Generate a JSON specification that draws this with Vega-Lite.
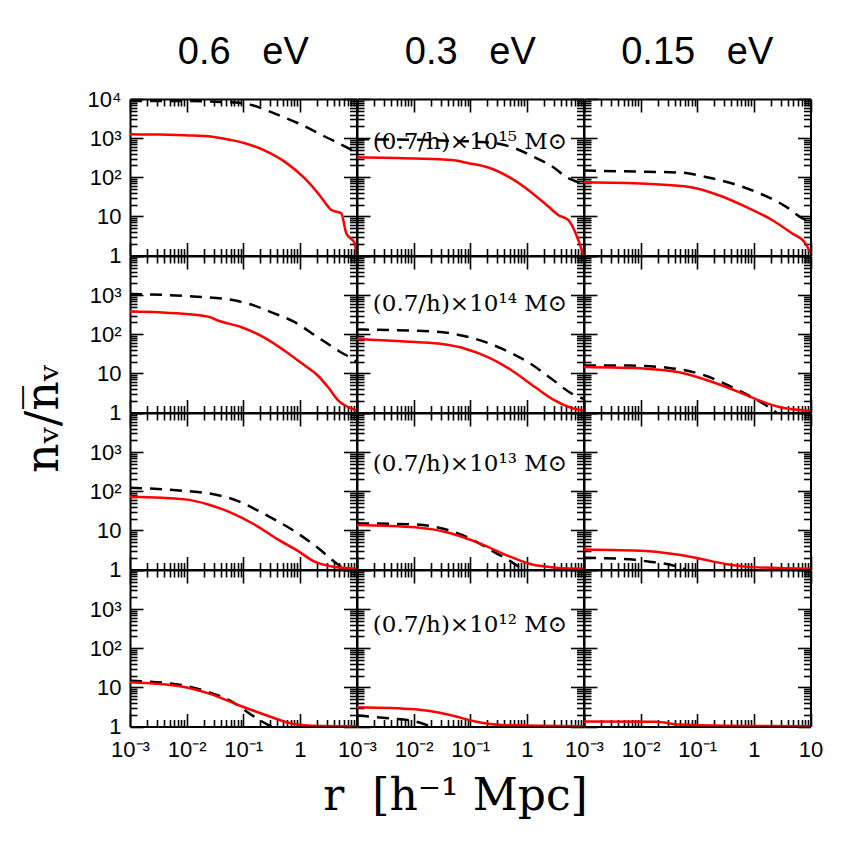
{
"$schema": "https://vega.github.io/schema/vega-lite/v6.json",
"background": "white",
"padding": {"left": 20, "top": 34, "right": 5, "bottom": 5},
"columns": 3,
"spacing": 0,
"bounds": "flush",
"config": {
  "view": {"stroke": null},
  "axis": {"domainColor": "black", "domainWidth": 2, "tickColor": "black", "tickWidth": 1.6, "tickSize": 0, "grid": false, "labelFont": "Liberation Sans", "labelFontSize": 22, "labelColor": "black", "labelPadding": 9, "titleColor": "black", "titleFontWeight": "normal"}
},
"datasets": {
  "labels": [
    {"m": "15", "r": 0.0019, "n": 810, "t": "(0.7/h)×10¹⁵ M⊙"},
    {"m": "14", "r": 0.0019, "n": 600, "t": "(0.7/h)×10¹⁴ M⊙"},
    {"m": "13", "r": 0.0019, "n": 490, "t": "(0.7/h)×10¹³ M⊙"},
    {"m": "12", "r": 0.0019, "n": 400, "t": "(0.7/h)×10¹² M⊙"}
  ],
  "curves": [
    {"m":"15","nu":"0.6","k":"sim","r":0.001,"n":1250},{"m":"15","nu":"0.6","k":"sim","r":0.00316,"n":1230},{"m":"15","nu":"0.6","k":"sim","r":0.01,"n":1175},{"m":"15","nu":"0.6","k":"sim","r":0.024,"n":1120},{"m":"15","nu":"0.6","k":"sim","r":0.0617,"n":890},{"m":"15","nu":"0.6","k":"sim","r":0.107,"n":740},{"m":"15","nu":"0.6","k":"sim","r":0.24,"n":479},{"m":"15","nu":"0.6","k":"sim","r":0.537,"n":251},{"m":"15","nu":"0.6","k":"sim","r":1.22,"n":93},{"m":"15","nu":"0.6","k":"sim","r":2.09,"n":39},{"m":"15","nu":"0.6","k":"sim","r":3.16,"n":17.8},{"m":"15","nu":"0.6","k":"sim","r":3.6,"n":14.5},{"m":"15","nu":"0.6","k":"sim","r":5.37,"n":12},{"m":"15","nu":"0.6","k":"sim","r":6.6,"n":3.7},{"m":"15","nu":"0.6","k":"sim","r":9.3,"n":2.04},{"m":"15","nu":"0.6","k":"sim","r":10,"n":1},
    {"m":"15","nu":"0.6","k":"lin","r":0.001,"n":8900},{"m":"15","nu":"0.6","k":"lin","r":0.01,"n":8900},{"m":"15","nu":"0.6","k":"lin","r":0.0316,"n":8500},{"m":"15","nu":"0.6","k":"lin","r":0.1,"n":7760},{"m":"15","nu":"0.6","k":"lin","r":0.138,"n":7080},{"m":"15","nu":"0.6","k":"lin","r":0.355,"n":4270},{"m":"15","nu":"0.6","k":"lin","r":0.933,"n":2400},{"m":"15","nu":"0.6","k":"lin","r":2.75,"n":1100},{"m":"15","nu":"0.6","k":"lin","r":8.13,"n":500},{"m":"15","nu":"0.6","k":"lin","r":10,"n":420},
    {"m":"15","nu":"0.3","k":"sim","r":0.001,"n":324},{"m":"15","nu":"0.3","k":"sim","r":0.01,"n":302},{"m":"15","nu":"0.3","k":"sim","r":0.0473,"n":275},{"m":"15","nu":"0.3","k":"sim","r":0.0933,"n":229},{"m":"15","nu":"0.3","k":"sim","r":0.209,"n":178},{"m":"15","nu":"0.3","k":"sim","r":0.479,"n":102},{"m":"15","nu":"0.3","k":"sim","r":1.07,"n":46.8},{"m":"15","nu":"0.3","k":"sim","r":2.4,"n":17.8},{"m":"15","nu":"0.3","k":"sim","r":3.63,"n":10.7},{"m":"15","nu":"0.3","k":"sim","r":5.37,"n":8.1},{"m":"15","nu":"0.3","k":"sim","r":8.13,"n":2.45},{"m":"15","nu":"0.3","k":"sim","r":10,"n":1},
    {"m":"15","nu":"0.3","k":"lin","r":0.001,"n":933},{"m":"15","nu":"0.3","k":"lin","r":0.01,"n":912},{"m":"15","nu":"0.3","k":"lin","r":0.0501,"n":851},{"m":"15","nu":"0.3","k":"lin","r":0.158,"n":794},{"m":"15","nu":"0.3","k":"lin","r":0.339,"n":708},{"m":"15","nu":"0.3","k":"lin","r":0.617,"n":550},{"m":"15","nu":"0.3","k":"lin","r":1.32,"n":331},{"m":"15","nu":"0.3","k":"lin","r":2.57,"n":204},{"m":"15","nu":"0.3","k":"lin","r":5.5,"n":93},{"m":"15","nu":"0.3","k":"lin","r":10,"n":68},
    {"m":"15","nu":"0.15","k":"sim","r":0.001,"n":74},{"m":"15","nu":"0.15","k":"sim","r":0.0123,"n":68},{"m":"15","nu":"0.15","k":"sim","r":0.0813,"n":55},{"m":"15","nu":"0.15","k":"sim","r":0.24,"n":34.7},{"m":"15","nu":"0.15","k":"sim","r":0.708,"n":17.8},{"m":"15","nu":"0.15","k":"sim","r":2.09,"n":8.1},{"m":"15","nu":"0.15","k":"sim","r":4.68,"n":3.7},{"m":"15","nu":"0.15","k":"sim","r":8.13,"n":2.04},{"m":"15","nu":"0.15","k":"sim","r":10,"n":1.15},
    {"m":"15","nu":"0.15","k":"lin","r":0.001,"n":148},{"m":"15","nu":"0.15","k":"lin","r":0.0123,"n":138},{"m":"15","nu":"0.15","k":"lin","r":0.049,"n":132},{"m":"15","nu":"0.15","k":"lin","r":0.141,"n":102},{"m":"15","nu":"0.15","k":"lin","r":0.417,"n":69},{"m":"15","nu":"0.15","k":"lin","r":1.24,"n":39},{"m":"15","nu":"0.15","k":"lin","r":3.67,"n":17.8},{"m":"15","nu":"0.15","k":"lin","r":7.24,"n":8.9},{"m":"15","nu":"0.15","k":"lin","r":10,"n":7.6},
    {"m":"14","nu":"0.6","k":"sim","r":0.001,"n":380},{"m":"14","nu":"0.6","k":"sim","r":0.00316,"n":363},{"m":"14","nu":"0.6","k":"sim","r":0.024,"n":282},{"m":"14","nu":"0.6","k":"sim","r":0.0355,"n":224},{"m":"14","nu":"0.6","k":"sim","r":0.0933,"n":151},{"m":"14","nu":"0.6","k":"sim","r":0.24,"n":81},{"m":"14","nu":"0.6","k":"sim","r":0.537,"n":38},{"m":"14","nu":"0.6","k":"sim","r":1.22,"n":15.8},{"m":"14","nu":"0.6","k":"sim","r":2.09,"n":8.7},{"m":"14","nu":"0.6","k":"sim","r":3.16,"n":4.4},{"m":"14","nu":"0.6","k":"sim","r":4.79,"n":2},{"m":"14","nu":"0.6","k":"sim","r":9.33,"n":1.17},{"m":"14","nu":"0.6","k":"sim","r":10,"n":1.12},
    {"m":"14","nu":"0.6","k":"lin","r":0.001,"n":1070},{"m":"14","nu":"0.6","k":"lin","r":0.0155,"n":912},{"m":"14","nu":"0.6","k":"lin","r":0.0617,"n":759},{"m":"14","nu":"0.6","k":"lin","r":0.138,"n":575},{"m":"14","nu":"0.6","k":"lin","r":0.316,"n":363},{"m":"14","nu":"0.6","k":"lin","r":0.813,"n":204},{"m":"14","nu":"0.6","k":"lin","r":2.09,"n":83},{"m":"14","nu":"0.6","k":"lin","r":4.79,"n":38},{"m":"14","nu":"0.6","k":"lin","r":9.33,"n":21.4},{"m":"14","nu":"0.6","k":"lin","r":10,"n":20},
    {"m":"14","nu":"0.3","k":"sim","r":0.001,"n":76},{"m":"14","nu":"0.3","k":"sim","r":0.0107,"n":63},{"m":"14","nu":"0.3","k":"sim","r":0.0316,"n":56},{"m":"14","nu":"0.3","k":"sim","r":0.0813,"n":42.7},{"m":"14","nu":"0.3","k":"sim","r":0.209,"n":25.7},{"m":"14","nu":"0.3","k":"sim","r":0.55,"n":11.7},{"m":"14","nu":"0.3","k":"sim","r":1.41,"n":4.4},{"m":"14","nu":"0.3","k":"sim","r":3.16,"n":2},{"m":"14","nu":"0.3","k":"sim","r":8.13,"n":1.17},{"m":"14","nu":"0.3","k":"sim","r":10,"n":1.12},
    {"m":"14","nu":"0.3","k":"lin","r":0.001,"n":132},{"m":"14","nu":"0.3","k":"lin","r":0.0107,"n":123},{"m":"14","nu":"0.3","k":"lin","r":0.0417,"n":107},{"m":"14","nu":"0.3","k":"lin","r":0.123,"n":76},{"m":"14","nu":"0.3","k":"lin","r":0.363,"n":42.7},{"m":"14","nu":"0.3","k":"lin","r":1.07,"n":19},{"m":"14","nu":"0.3","k":"lin","r":2.75,"n":7.2},{"m":"14","nu":"0.3","k":"lin","r":6.3,"n":3},{"m":"14","nu":"0.3","k":"lin","r":10,"n":2.24},
    {"m":"14","nu":"0.15","k":"sim","r":0.001,"n":14.5},{"m":"14","nu":"0.15","k":"sim","r":0.0123,"n":13.2},{"m":"14","nu":"0.15","k":"sim","r":0.0479,"n":10.7},{"m":"14","nu":"0.15","k":"sim","r":0.186,"n":6},{"m":"14","nu":"0.15","k":"sim","r":0.55,"n":3.3},{"m":"14","nu":"0.15","k":"sim","r":1.23,"n":2.04},{"m":"14","nu":"0.15","k":"sim","r":2.82,"n":1.38},{"m":"14","nu":"0.15","k":"sim","r":10,"n":1.1},
    {"m":"14","nu":"0.15","k":"lin","r":0.001,"n":15.8},{"m":"14","nu":"0.15","k":"lin","r":0.0063,"n":15.8},{"m":"14","nu":"0.15","k":"lin","r":0.0316,"n":13.8},{"m":"14","nu":"0.15","k":"lin","r":0.141,"n":8.7},{"m":"14","nu":"0.15","k":"lin","r":0.417,"n":4.4},{"m":"14","nu":"0.15","k":"lin","r":0.933,"n":2.45},{"m":"14","nu":"0.15","k":"lin","r":1.86,"n":1.35},{"m":"14","nu":"0.15","k":"lin","r":2.5,"n":1},
    {"m":"13","nu":"0.6","k":"sim","r":0.001,"n":72},{"m":"13","nu":"0.6","k":"sim","r":0.0093,"n":62},{"m":"13","nu":"0.6","k":"sim","r":0.024,"n":46},{"m":"13","nu":"0.6","k":"sim","r":0.0617,"n":28},{"m":"13","nu":"0.6","k":"sim","r":0.158,"n":14.1},{"m":"13","nu":"0.6","k":"sim","r":0.407,"n":5.9},{"m":"13","nu":"0.6","k":"sim","r":0.933,"n":2.95},{"m":"13","nu":"0.6","k":"sim","r":1.82,"n":1.58},{"m":"13","nu":"0.6","k":"sim","r":3.63,"n":1.2},{"m":"13","nu":"0.6","k":"sim","r":10,"n":1.05},
    {"m":"13","nu":"0.6","k":"lin","r":0.001,"n":123},{"m":"13","nu":"0.6","k":"lin","r":0.0093,"n":102},{"m":"13","nu":"0.6","k":"lin","r":0.0316,"n":83},{"m":"13","nu":"0.6","k":"lin","r":0.0813,"n":56},{"m":"13","nu":"0.6","k":"lin","r":0.24,"n":25.7},{"m":"13","nu":"0.6","k":"lin","r":0.708,"n":10.7},{"m":"13","nu":"0.6","k":"lin","r":2.09,"n":3.55},{"m":"13","nu":"0.6","k":"lin","r":4.68,"n":1.35},{"m":"13","nu":"0.6","k":"lin","r":6.3,"n":1},
    {"m":"13","nu":"0.3","k":"sim","r":0.001,"n":13.8},{"m":"13","nu":"0.3","k":"sim","r":0.0107,"n":12},{"m":"13","nu":"0.3","k":"sim","r":0.0417,"n":8.7},{"m":"13","nu":"0.3","k":"sim","r":0.162,"n":4.4},{"m":"13","nu":"0.3","k":"sim","r":0.479,"n":2.19},{"m":"13","nu":"0.3","k":"sim","r":1.41,"n":1.29},{"m":"13","nu":"0.3","k":"sim","r":8.13,"n":1.05},{"m":"13","nu":"0.3","k":"sim","r":10,"n":1.05},
    {"m":"13","nu":"0.3","k":"lin","r":0.001,"n":15.1},{"m":"13","nu":"0.3","k":"lin","r":0.0107,"n":14.1},{"m":"13","nu":"0.3","k":"lin","r":0.0363,"n":10.7},{"m":"13","nu":"0.3","k":"lin","r":0.107,"n":5.9},{"m":"13","nu":"0.3","k":"lin","r":0.275,"n":2.7},{"m":"13","nu":"0.3","k":"lin","r":0.479,"n":1.74},{"m":"13","nu":"0.3","k":"lin","r":0.76,"n":1.1},{"m":"13","nu":"0.3","k":"lin","r":0.83,"n":1},
    {"m":"13","nu":"0.15","k":"sim","r":0.001,"n":3.24},{"m":"13","nu":"0.15","k":"sim","r":0.0123,"n":2.95},{"m":"13","nu":"0.15","k":"sim","r":0.0933,"n":2},{"m":"13","nu":"0.15","k":"sim","r":0.316,"n":1.38},{"m":"13","nu":"0.15","k":"sim","r":0.933,"n":1.15},{"m":"13","nu":"0.15","k":"sim","r":10,"n":1.05},
    {"m":"13","nu":"0.15","k":"lin","r":0.001,"n":2},{"m":"13","nu":"0.15","k":"lin","r":0.0063,"n":1.82},{"m":"13","nu":"0.15","k":"lin","r":0.0162,"n":1.55},{"m":"13","nu":"0.15","k":"lin","r":0.0363,"n":1.29},{"m":"13","nu":"0.15","k":"lin","r":0.063,"n":1},
    {"m":"12","nu":"0.6","k":"sim","r":0.001,"n":13.5},{"m":"12","nu":"0.6","k":"sim","r":0.0081,"n":10.5},{"m":"12","nu":"0.6","k":"sim","r":0.0275,"n":6.6},{"m":"12","nu":"0.6","k":"sim","r":0.0813,"n":3.55},{"m":"12","nu":"0.6","k":"sim","r":0.24,"n":2},{"m":"12","nu":"0.6","k":"sim","r":0.708,"n":1.2},{"m":"12","nu":"0.6","k":"sim","r":1.58,"n":1.05},{"m":"12","nu":"0.6","k":"sim","r":10,"n":1.02},
    {"m":"12","nu":"0.6","k":"lin","r":0.001,"n":14.8},{"m":"12","nu":"0.6","k":"lin","r":0.0081,"n":11.5},{"m":"12","nu":"0.6","k":"lin","r":0.0275,"n":7.1},{"m":"12","nu":"0.6","k":"lin","r":0.0617,"n":4.4},{"m":"12","nu":"0.6","k":"lin","r":0.138,"n":2},{"m":"12","nu":"0.6","k":"lin","r":0.275,"n":1.1},{"m":"12","nu":"0.6","k":"lin","r":0.316,"n":1},
    {"m":"12","nu":"0.3","k":"sim","r":0.001,"n":3.1},{"m":"12","nu":"0.3","k":"sim","r":0.0107,"n":2.75},{"m":"12","nu":"0.3","k":"sim","r":0.0417,"n":2},{"m":"12","nu":"0.3","k":"sim","r":0.123,"n":1.35},{"m":"12","nu":"0.3","k":"sim","r":0.363,"n":1.1},{"m":"12","nu":"0.3","k":"sim","r":10,"n":1.01},
    {"m":"12","nu":"0.3","k":"lin","r":0.001,"n":1.9},{"m":"12","nu":"0.3","k":"lin","r":0.0036,"n":1.62},{"m":"12","nu":"0.3","k":"lin","r":0.0107,"n":1.35},{"m":"12","nu":"0.3","k":"lin","r":0.02,"n":1},
    {"m":"12","nu":"0.15","k":"sim","r":0.001,"n":1.35},{"m":"12","nu":"0.15","k":"sim","r":0.0186,"n":1.32},{"m":"12","nu":"0.15","k":"sim","r":0.0479,"n":1.12},{"m":"12","nu":"0.15","k":"sim","r":0.316,"n":1.05},{"m":"12","nu":"0.15","k":"sim","r":10,"n":1.02}
  ]
},
"concat": [
  {"width": 226.5, "height": 156.5,
   "title": {"text": "0.6\u00a0\u00a0\u00a0eV", "font": "Liberation Sans", "fontSize": 38, "fontWeight": "normal", "color": "black", "offset": -14, "baseline": "alphabetic"},
   "layer": [
    {"data": {"name": "curves"}, "transform": [{"filter": "datum.m=='15' && datum.nu=='0.6' && datum.k=='lin'"}],
     "mark": {"type": "line", "color": "black", "strokeWidth": 2.5, "strokeDash": [12, 8], "clip": true, "interpolate": "monotone"},
     "encoding": {"x": {"field": "r", "type": "quantitative", "scale": {"type": "log", "domain": [0.001, 10], "nice": false}, "axis": {"orient": "top", "values": [0.001,0.002,0.003,0.004,0.005,0.006,0.007,0.008,0.009,0.01,0.02,0.03,0.04,0.05,0.06,0.07,0.08,0.09,0.1,0.2,0.3,0.4,0.5,0.6,0.7,0.8,0.9,1,2,3,4,5,6,7,8,9,10], "labels": false, "title": null, "encoding": {"ticks": {"y2": {"condition": {"test": "abs(log(datum.value)/LN10-round(log(datum.value)/LN10))<0.001", "value": 13}, "value": 7}}}}},
                  "y": {"field": "n", "type": "quantitative", "scale": {"type": "log", "domain": [1, 10000], "nice": false}, "axis": {"orient": "right", "values": [1,2,3,4,5,6,7,8,9,10,20,30,40,50,60,70,80,90,100,200,300,400,500,600,700,800,900,1000,2000,3000,4000,5000,6000,7000,8000,9000,10000], "labels": false, "title": null, "encoding": {"ticks": {"x2": {"condition": {"test": "abs(log(datum.value)/LN10-round(log(datum.value)/LN10))<0.001", "value": -13}, "value": -7}}}}}}},
    {"data": {"name": "curves"}, "transform": [{"filter": "datum.m=='15' && datum.nu=='0.6' && datum.k=='sim'"}],
     "mark": {"type": "line", "color": "#ff0000", "strokeWidth": 2.5, "clip": true, "interpolate": "monotone"},
     "encoding": {"x": {"field": "r", "type": "quantitative", "scale": {"type": "log", "domain": [0.001, 10], "nice": false}, "axis": {"orient": "bottom", "values": [0.001,0.002,0.003,0.004,0.005,0.006,0.007,0.008,0.009,0.01,0.02,0.03,0.04,0.05,0.06,0.07,0.08,0.09,0.1,0.2,0.3,0.4,0.5,0.6,0.7,0.8,0.9,1,2,3,4,5,6,7,8,9,10], "labels": false, "title": null, "encoding": {"ticks": {"y2": {"condition": {"test": "abs(log(datum.value)/LN10-round(log(datum.value)/LN10))<0.001", "value": -13}, "value": -7}}}}},
                  "y": {"field": "n", "type": "quantitative", "scale": {"type": "log", "domain": [1, 10000], "nice": false}, "axis": {"orient": "left", "values": [1,2,3,4,5,6,7,8,9,10,20,30,40,50,60,70,80,90,100,200,300,400,500,600,700,800,900,1000,2000,3000,4000,5000,6000,7000,8000,9000,10000], "labels": true, "labelOverlap": false, "labelFlush": false, "labelExpr": "datum.value==1?'1':datum.value==10?'10':datum.value==100?'10²':datum.value==1000?'10³':datum.value==10000?'10⁴':''", "title": null, "encoding": {"ticks": {"x2": {"condition": {"test": "abs(log(datum.value)/LN10-round(log(datum.value)/LN10))<0.001", "value": 13}, "value": 7}}}}}}}
   ]},
  {"width": 226.5, "height": 156.5,
   "title": {"text": "0.3\u00a0\u00a0\u00a0eV", "font": "Liberation Sans", "fontSize": 38, "fontWeight": "normal", "color": "black", "offset": -4, "baseline": "alphabetic"},
   "layer": [
    {"data": {"name": "curves"}, "transform": [{"filter": "datum.m=='15' && datum.nu=='0.3' && datum.k=='lin'"}],
     "mark": {"type": "line", "color": "black", "strokeWidth": 2.5, "strokeDash": [12, 8], "clip": true, "interpolate": "monotone"},
     "encoding": {"x": {"field": "r", "type": "quantitative", "scale": {"type": "log", "domain": [0.001, 10], "nice": false}, "axis": {"orient": "top", "values": [0.001,0.002,0.003,0.004,0.005,0.006,0.007,0.008,0.009,0.01,0.02,0.03,0.04,0.05,0.06,0.07,0.08,0.09,0.1,0.2,0.3,0.4,0.5,0.6,0.7,0.8,0.9,1,2,3,4,5,6,7,8,9,10], "labels": false, "title": null, "encoding": {"ticks": {"y2": {"condition": {"test": "abs(log(datum.value)/LN10-round(log(datum.value)/LN10))<0.001", "value": 13}, "value": 7}}}}},
                  "y": {"field": "n", "type": "quantitative", "scale": {"type": "log", "domain": [1, 10000], "nice": false}, "axis": {"orient": "right", "values": [1,2,3,4,5,6,7,8,9,10,20,30,40,50,60,70,80,90,100,200,300,400,500,600,700,800,900,1000,2000,3000,4000,5000,6000,7000,8000,9000,10000], "labels": false, "title": null, "encoding": {"ticks": {"x2": {"condition": {"test": "abs(log(datum.value)/LN10-round(log(datum.value)/LN10))<0.001", "value": -13}, "value": -7}}}}}}},
    {"data": {"name": "curves"}, "transform": [{"filter": "datum.m=='15' && datum.nu=='0.3' && datum.k=='sim'"}],
     "mark": {"type": "line", "color": "#ff0000", "strokeWidth": 2.5, "clip": true, "interpolate": "monotone"},
     "encoding": {"x": {"field": "r", "type": "quantitative", "scale": {"type": "log", "domain": [0.001, 10], "nice": false}, "axis": {"orient": "bottom", "values": [0.001,0.002,0.003,0.004,0.005,0.006,0.007,0.008,0.009,0.01,0.02,0.03,0.04,0.05,0.06,0.07,0.08,0.09,0.1,0.2,0.3,0.4,0.5,0.6,0.7,0.8,0.9,1,2,3,4,5,6,7,8,9,10], "labels": false, "title": null, "encoding": {"ticks": {"y2": {"condition": {"test": "abs(log(datum.value)/LN10-round(log(datum.value)/LN10))<0.001", "value": -13}, "value": -7}}}}},
                  "y": {"field": "n", "type": "quantitative", "scale": {"type": "log", "domain": [1, 10000], "nice": false}, "axis": {"orient": "left", "values": [1,2,3,4,5,6,7,8,9,10,20,30,40,50,60,70,80,90,100,200,300,400,500,600,700,800,900,1000,2000,3000,4000,5000,6000,7000,8000,9000,10000], "labels": false, "title": null, "encoding": {"ticks": {"x2": {"condition": {"test": "abs(log(datum.value)/LN10-round(log(datum.value)/LN10))<0.001", "value": 13}, "value": 7}}}}}}},
    {"data": {"name": "labels"}, "transform": [{"filter": "datum.m=='15'"}],
     "mark": {"type": "text", "align": "left", "baseline": "middle", "font": "DejaVu Serif", "fontSize": 23, "color": "black"},
     "encoding": {"x": {"field": "r", "type": "quantitative", "scale": {"type": "log", "domain": [0.001, 10], "nice": false}, "axis": null},
                  "y": {"field": "n", "type": "quantitative", "scale": {"type": "log", "domain": [1, 10000], "nice": false}, "axis": null},
                  "text": {"field": "t"}}}
   ]},
  {"width": 226.5, "height": 156.5,
   "title": {"text": "0.15\u00a0\u00a0\u00a0eV", "font": "Liberation Sans", "fontSize": 38, "fontWeight": "normal", "color": "black", "offset": -4, "baseline": "alphabetic"},
   "layer": [
    {"data": {"name": "curves"}, "transform": [{"filter": "datum.m=='15' && datum.nu=='0.15' && datum.k=='lin'"}],
     "mark": {"type": "line", "color": "black", "strokeWidth": 2.5, "strokeDash": [12, 8], "clip": true, "interpolate": "monotone"},
     "encoding": {"x": {"field": "r", "type": "quantitative", "scale": {"type": "log", "domain": [0.001, 10], "nice": false}, "axis": {"orient": "top", "values": [0.001,0.002,0.003,0.004,0.005,0.006,0.007,0.008,0.009,0.01,0.02,0.03,0.04,0.05,0.06,0.07,0.08,0.09,0.1,0.2,0.3,0.4,0.5,0.6,0.7,0.8,0.9,1,2,3,4,5,6,7,8,9,10], "labels": false, "title": null, "encoding": {"ticks": {"y2": {"condition": {"test": "abs(log(datum.value)/LN10-round(log(datum.value)/LN10))<0.001", "value": 13}, "value": 7}}}}},
                  "y": {"field": "n", "type": "quantitative", "scale": {"type": "log", "domain": [1, 10000], "nice": false}, "axis": {"orient": "right", "values": [1,2,3,4,5,6,7,8,9,10,20,30,40,50,60,70,80,90,100,200,300,400,500,600,700,800,900,1000,2000,3000,4000,5000,6000,7000,8000,9000,10000], "labels": false, "title": null, "encoding": {"ticks": {"x2": {"condition": {"test": "abs(log(datum.value)/LN10-round(log(datum.value)/LN10))<0.001", "value": -13}, "value": -7}}}}}}},
    {"data": {"name": "curves"}, "transform": [{"filter": "datum.m=='15' && datum.nu=='0.15' && datum.k=='sim'"}],
     "mark": {"type": "line", "color": "#ff0000", "strokeWidth": 2.5, "clip": true, "interpolate": "monotone"},
     "encoding": {"x": {"field": "r", "type": "quantitative", "scale": {"type": "log", "domain": [0.001, 10], "nice": false}, "axis": {"orient": "bottom", "values": [0.001,0.002,0.003,0.004,0.005,0.006,0.007,0.008,0.009,0.01,0.02,0.03,0.04,0.05,0.06,0.07,0.08,0.09,0.1,0.2,0.3,0.4,0.5,0.6,0.7,0.8,0.9,1,2,3,4,5,6,7,8,9,10], "labels": false, "title": null, "encoding": {"ticks": {"y2": {"condition": {"test": "abs(log(datum.value)/LN10-round(log(datum.value)/LN10))<0.001", "value": -13}, "value": -7}}}}},
                  "y": {"field": "n", "type": "quantitative", "scale": {"type": "log", "domain": [1, 10000], "nice": false}, "axis": {"orient": "left", "values": [1,2,3,4,5,6,7,8,9,10,20,30,40,50,60,70,80,90,100,200,300,400,500,600,700,800,900,1000,2000,3000,4000,5000,6000,7000,8000,9000,10000], "labels": false, "title": null, "encoding": {"ticks": {"x2": {"condition": {"test": "abs(log(datum.value)/LN10-round(log(datum.value)/LN10))<0.001", "value": 13}, "value": 7}}}}}}}
   ]},
  {"width": 226.5, "height": 156.5,
   "layer": [
    {"data": {"name": "curves"}, "transform": [{"filter": "datum.m=='14' && datum.nu=='0.6' && datum.k=='lin'"}],
     "mark": {"type": "line", "color": "black", "strokeWidth": 2.5, "strokeDash": [12, 8], "clip": true, "interpolate": "monotone"},
     "encoding": {"x": {"field": "r", "type": "quantitative", "scale": {"type": "log", "domain": [0.001, 10], "nice": false}, "axis": {"orient": "top", "values": [0.001,0.002,0.003,0.004,0.005,0.006,0.007,0.008,0.009,0.01,0.02,0.03,0.04,0.05,0.06,0.07,0.08,0.09,0.1,0.2,0.3,0.4,0.5,0.6,0.7,0.8,0.9,1,2,3,4,5,6,7,8,9,10], "labels": false, "title": null, "encoding": {"ticks": {"y2": {"condition": {"test": "abs(log(datum.value)/LN10-round(log(datum.value)/LN10))<0.001", "value": 13}, "value": 7}}}}},
                  "y": {"field": "n", "type": "quantitative", "scale": {"type": "log", "domain": [1, 10000], "nice": false}, "axis": {"orient": "right", "values": [1,2,3,4,5,6,7,8,9,10,20,30,40,50,60,70,80,90,100,200,300,400,500,600,700,800,900,1000,2000,3000,4000,5000,6000,7000,8000,9000,10000], "labels": false, "title": null, "encoding": {"ticks": {"x2": {"condition": {"test": "abs(log(datum.value)/LN10-round(log(datum.value)/LN10))<0.001", "value": -13}, "value": -7}}}}}}},
    {"data": {"name": "curves"}, "transform": [{"filter": "datum.m=='14' && datum.nu=='0.6' && datum.k=='sim'"}],
     "mark": {"type": "line", "color": "#ff0000", "strokeWidth": 2.5, "clip": true, "interpolate": "monotone"},
     "encoding": {"x": {"field": "r", "type": "quantitative", "scale": {"type": "log", "domain": [0.001, 10], "nice": false}, "axis": {"orient": "bottom", "values": [0.001,0.002,0.003,0.004,0.005,0.006,0.007,0.008,0.009,0.01,0.02,0.03,0.04,0.05,0.06,0.07,0.08,0.09,0.1,0.2,0.3,0.4,0.5,0.6,0.7,0.8,0.9,1,2,3,4,5,6,7,8,9,10], "labels": false, "title": null, "encoding": {"ticks": {"y2": {"condition": {"test": "abs(log(datum.value)/LN10-round(log(datum.value)/LN10))<0.001", "value": -13}, "value": -7}}}}},
                  "y": {"field": "n", "type": "quantitative", "scale": {"type": "log", "domain": [1, 10000], "nice": false}, "axis": {"orient": "left", "values": [1,2,3,4,5,6,7,8,9,10,20,30,40,50,60,70,80,90,100,200,300,400,500,600,700,800,900,1000,2000,3000,4000,5000,6000,7000,8000,9000,10000], "labels": true, "labelOverlap": false, "labelFlush": false, "labelExpr": "datum.value==1?'1':datum.value==10?'10':datum.value==100?'10²':datum.value==1000?'10³':''", "title": "n\u1d65/n\u0305\u1d65", "titleFont": "DejaVu Serif", "titleFontSize": 46, "titleAngle": -90, "titleX": -87, "titleY": 162, "titleAlign": "center", "titleBaseline": "middle", "encoding": {"ticks": {"x2": {"condition": {"test": "abs(log(datum.value)/LN10-round(log(datum.value)/LN10))<0.001", "value": 13}, "value": 7}}}}}}}
   ]},
  {"width": 226.5, "height": 156.5,
   "layer": [
    {"data": {"name": "curves"}, "transform": [{"filter": "datum.m=='14' && datum.nu=='0.3' && datum.k=='lin'"}],
     "mark": {"type": "line", "color": "black", "strokeWidth": 2.5, "strokeDash": [12, 8], "clip": true, "interpolate": "monotone"},
     "encoding": {"x": {"field": "r", "type": "quantitative", "scale": {"type": "log", "domain": [0.001, 10], "nice": false}, "axis": {"orient": "top", "values": [0.001,0.002,0.003,0.004,0.005,0.006,0.007,0.008,0.009,0.01,0.02,0.03,0.04,0.05,0.06,0.07,0.08,0.09,0.1,0.2,0.3,0.4,0.5,0.6,0.7,0.8,0.9,1,2,3,4,5,6,7,8,9,10], "labels": false, "title": null, "encoding": {"ticks": {"y2": {"condition": {"test": "abs(log(datum.value)/LN10-round(log(datum.value)/LN10))<0.001", "value": 13}, "value": 7}}}}},
                  "y": {"field": "n", "type": "quantitative", "scale": {"type": "log", "domain": [1, 10000], "nice": false}, "axis": {"orient": "right", "values": [1,2,3,4,5,6,7,8,9,10,20,30,40,50,60,70,80,90,100,200,300,400,500,600,700,800,900,1000,2000,3000,4000,5000,6000,7000,8000,9000,10000], "labels": false, "title": null, "encoding": {"ticks": {"x2": {"condition": {"test": "abs(log(datum.value)/LN10-round(log(datum.value)/LN10))<0.001", "value": -13}, "value": -7}}}}}}},
    {"data": {"name": "curves"}, "transform": [{"filter": "datum.m=='14' && datum.nu=='0.3' && datum.k=='sim'"}],
     "mark": {"type": "line", "color": "#ff0000", "strokeWidth": 2.5, "clip": true, "interpolate": "monotone"},
     "encoding": {"x": {"field": "r", "type": "quantitative", "scale": {"type": "log", "domain": [0.001, 10], "nice": false}, "axis": {"orient": "bottom", "values": [0.001,0.002,0.003,0.004,0.005,0.006,0.007,0.008,0.009,0.01,0.02,0.03,0.04,0.05,0.06,0.07,0.08,0.09,0.1,0.2,0.3,0.4,0.5,0.6,0.7,0.8,0.9,1,2,3,4,5,6,7,8,9,10], "labels": false, "title": null, "encoding": {"ticks": {"y2": {"condition": {"test": "abs(log(datum.value)/LN10-round(log(datum.value)/LN10))<0.001", "value": -13}, "value": -7}}}}},
                  "y": {"field": "n", "type": "quantitative", "scale": {"type": "log", "domain": [1, 10000], "nice": false}, "axis": {"orient": "left", "values": [1,2,3,4,5,6,7,8,9,10,20,30,40,50,60,70,80,90,100,200,300,400,500,600,700,800,900,1000,2000,3000,4000,5000,6000,7000,8000,9000,10000], "labels": false, "title": null, "encoding": {"ticks": {"x2": {"condition": {"test": "abs(log(datum.value)/LN10-round(log(datum.value)/LN10))<0.001", "value": 13}, "value": 7}}}}}}},
    {"data": {"name": "labels"}, "transform": [{"filter": "datum.m=='14'"}],
     "mark": {"type": "text", "align": "left", "baseline": "middle", "font": "DejaVu Serif", "fontSize": 23, "color": "black"},
     "encoding": {"x": {"field": "r", "type": "quantitative", "scale": {"type": "log", "domain": [0.001, 10], "nice": false}, "axis": null},
                  "y": {"field": "n", "type": "quantitative", "scale": {"type": "log", "domain": [1, 10000], "nice": false}, "axis": null},
                  "text": {"field": "t"}}}
   ]},
  {"width": 226.5, "height": 156.5,
   "layer": [
    {"data": {"name": "curves"}, "transform": [{"filter": "datum.m=='14' && datum.nu=='0.15' && datum.k=='lin'"}],
     "mark": {"type": "line", "color": "black", "strokeWidth": 2.5, "strokeDash": [12, 8], "clip": true, "interpolate": "monotone"},
     "encoding": {"x": {"field": "r", "type": "quantitative", "scale": {"type": "log", "domain": [0.001, 10], "nice": false}, "axis": {"orient": "top", "values": [0.001,0.002,0.003,0.004,0.005,0.006,0.007,0.008,0.009,0.01,0.02,0.03,0.04,0.05,0.06,0.07,0.08,0.09,0.1,0.2,0.3,0.4,0.5,0.6,0.7,0.8,0.9,1,2,3,4,5,6,7,8,9,10], "labels": false, "title": null, "encoding": {"ticks": {"y2": {"condition": {"test": "abs(log(datum.value)/LN10-round(log(datum.value)/LN10))<0.001", "value": 13}, "value": 7}}}}},
                  "y": {"field": "n", "type": "quantitative", "scale": {"type": "log", "domain": [1, 10000], "nice": false}, "axis": {"orient": "right", "values": [1,2,3,4,5,6,7,8,9,10,20,30,40,50,60,70,80,90,100,200,300,400,500,600,700,800,900,1000,2000,3000,4000,5000,6000,7000,8000,9000,10000], "labels": false, "title": null, "encoding": {"ticks": {"x2": {"condition": {"test": "abs(log(datum.value)/LN10-round(log(datum.value)/LN10))<0.001", "value": -13}, "value": -7}}}}}}},
    {"data": {"name": "curves"}, "transform": [{"filter": "datum.m=='14' && datum.nu=='0.15' && datum.k=='sim'"}],
     "mark": {"type": "line", "color": "#ff0000", "strokeWidth": 2.5, "clip": true, "interpolate": "monotone"},
     "encoding": {"x": {"field": "r", "type": "quantitative", "scale": {"type": "log", "domain": [0.001, 10], "nice": false}, "axis": {"orient": "bottom", "values": [0.001,0.002,0.003,0.004,0.005,0.006,0.007,0.008,0.009,0.01,0.02,0.03,0.04,0.05,0.06,0.07,0.08,0.09,0.1,0.2,0.3,0.4,0.5,0.6,0.7,0.8,0.9,1,2,3,4,5,6,7,8,9,10], "labels": false, "title": null, "encoding": {"ticks": {"y2": {"condition": {"test": "abs(log(datum.value)/LN10-round(log(datum.value)/LN10))<0.001", "value": -13}, "value": -7}}}}},
                  "y": {"field": "n", "type": "quantitative", "scale": {"type": "log", "domain": [1, 10000], "nice": false}, "axis": {"orient": "left", "values": [1,2,3,4,5,6,7,8,9,10,20,30,40,50,60,70,80,90,100,200,300,400,500,600,700,800,900,1000,2000,3000,4000,5000,6000,7000,8000,9000,10000], "labels": false, "title": null, "encoding": {"ticks": {"x2": {"condition": {"test": "abs(log(datum.value)/LN10-round(log(datum.value)/LN10))<0.001", "value": 13}, "value": 7}}}}}}}
   ]},
  {"width": 226.5, "height": 156.5,
   "layer": [
    {"data": {"name": "curves"}, "transform": [{"filter": "datum.m=='13' && datum.nu=='0.6' && datum.k=='lin'"}],
     "mark": {"type": "line", "color": "black", "strokeWidth": 2.5, "strokeDash": [12, 8], "clip": true, "interpolate": "monotone"},
     "encoding": {"x": {"field": "r", "type": "quantitative", "scale": {"type": "log", "domain": [0.001, 10], "nice": false}, "axis": {"orient": "top", "values": [0.001,0.002,0.003,0.004,0.005,0.006,0.007,0.008,0.009,0.01,0.02,0.03,0.04,0.05,0.06,0.07,0.08,0.09,0.1,0.2,0.3,0.4,0.5,0.6,0.7,0.8,0.9,1,2,3,4,5,6,7,8,9,10], "labels": false, "title": null, "encoding": {"ticks": {"y2": {"condition": {"test": "abs(log(datum.value)/LN10-round(log(datum.value)/LN10))<0.001", "value": 13}, "value": 7}}}}},
                  "y": {"field": "n", "type": "quantitative", "scale": {"type": "log", "domain": [1, 10000], "nice": false}, "axis": {"orient": "right", "values": [1,2,3,4,5,6,7,8,9,10,20,30,40,50,60,70,80,90,100,200,300,400,500,600,700,800,900,1000,2000,3000,4000,5000,6000,7000,8000,9000,10000], "labels": false, "title": null, "encoding": {"ticks": {"x2": {"condition": {"test": "abs(log(datum.value)/LN10-round(log(datum.value)/LN10))<0.001", "value": -13}, "value": -7}}}}}}},
    {"data": {"name": "curves"}, "transform": [{"filter": "datum.m=='13' && datum.nu=='0.6' && datum.k=='sim'"}],
     "mark": {"type": "line", "color": "#ff0000", "strokeWidth": 2.5, "clip": true, "interpolate": "monotone"},
     "encoding": {"x": {"field": "r", "type": "quantitative", "scale": {"type": "log", "domain": [0.001, 10], "nice": false}, "axis": {"orient": "bottom", "values": [0.001,0.002,0.003,0.004,0.005,0.006,0.007,0.008,0.009,0.01,0.02,0.03,0.04,0.05,0.06,0.07,0.08,0.09,0.1,0.2,0.3,0.4,0.5,0.6,0.7,0.8,0.9,1,2,3,4,5,6,7,8,9,10], "labels": false, "title": null, "encoding": {"ticks": {"y2": {"condition": {"test": "abs(log(datum.value)/LN10-round(log(datum.value)/LN10))<0.001", "value": -13}, "value": -7}}}}},
                  "y": {"field": "n", "type": "quantitative", "scale": {"type": "log", "domain": [1, 10000], "nice": false}, "axis": {"orient": "left", "values": [1,2,3,4,5,6,7,8,9,10,20,30,40,50,60,70,80,90,100,200,300,400,500,600,700,800,900,1000,2000,3000,4000,5000,6000,7000,8000,9000,10000], "labels": true, "labelOverlap": false, "labelFlush": false, "labelExpr": "datum.value==1?'1':datum.value==10?'10':datum.value==100?'10²':datum.value==1000?'10³':''", "title": null, "encoding": {"ticks": {"x2": {"condition": {"test": "abs(log(datum.value)/LN10-round(log(datum.value)/LN10))<0.001", "value": 13}, "value": 7}}}}}}}
   ]},
  {"width": 226.5, "height": 156.5,
   "layer": [
    {"data": {"name": "curves"}, "transform": [{"filter": "datum.m=='13' && datum.nu=='0.3' && datum.k=='lin'"}],
     "mark": {"type": "line", "color": "black", "strokeWidth": 2.5, "strokeDash": [12, 8], "clip": true, "interpolate": "monotone"},
     "encoding": {"x": {"field": "r", "type": "quantitative", "scale": {"type": "log", "domain": [0.001, 10], "nice": false}, "axis": {"orient": "top", "values": [0.001,0.002,0.003,0.004,0.005,0.006,0.007,0.008,0.009,0.01,0.02,0.03,0.04,0.05,0.06,0.07,0.08,0.09,0.1,0.2,0.3,0.4,0.5,0.6,0.7,0.8,0.9,1,2,3,4,5,6,7,8,9,10], "labels": false, "title": null, "encoding": {"ticks": {"y2": {"condition": {"test": "abs(log(datum.value)/LN10-round(log(datum.value)/LN10))<0.001", "value": 13}, "value": 7}}}}},
                  "y": {"field": "n", "type": "quantitative", "scale": {"type": "log", "domain": [1, 10000], "nice": false}, "axis": {"orient": "right", "values": [1,2,3,4,5,6,7,8,9,10,20,30,40,50,60,70,80,90,100,200,300,400,500,600,700,800,900,1000,2000,3000,4000,5000,6000,7000,8000,9000,10000], "labels": false, "title": null, "encoding": {"ticks": {"x2": {"condition": {"test": "abs(log(datum.value)/LN10-round(log(datum.value)/LN10))<0.001", "value": -13}, "value": -7}}}}}}},
    {"data": {"name": "curves"}, "transform": [{"filter": "datum.m=='13' && datum.nu=='0.3' && datum.k=='sim'"}],
     "mark": {"type": "line", "color": "#ff0000", "strokeWidth": 2.5, "clip": true, "interpolate": "monotone"},
     "encoding": {"x": {"field": "r", "type": "quantitative", "scale": {"type": "log", "domain": [0.001, 10], "nice": false}, "axis": {"orient": "bottom", "values": [0.001,0.002,0.003,0.004,0.005,0.006,0.007,0.008,0.009,0.01,0.02,0.03,0.04,0.05,0.06,0.07,0.08,0.09,0.1,0.2,0.3,0.4,0.5,0.6,0.7,0.8,0.9,1,2,3,4,5,6,7,8,9,10], "labels": false, "title": null, "encoding": {"ticks": {"y2": {"condition": {"test": "abs(log(datum.value)/LN10-round(log(datum.value)/LN10))<0.001", "value": -13}, "value": -7}}}}},
                  "y": {"field": "n", "type": "quantitative", "scale": {"type": "log", "domain": [1, 10000], "nice": false}, "axis": {"orient": "left", "values": [1,2,3,4,5,6,7,8,9,10,20,30,40,50,60,70,80,90,100,200,300,400,500,600,700,800,900,1000,2000,3000,4000,5000,6000,7000,8000,9000,10000], "labels": false, "title": null, "encoding": {"ticks": {"x2": {"condition": {"test": "abs(log(datum.value)/LN10-round(log(datum.value)/LN10))<0.001", "value": 13}, "value": 7}}}}}}},
    {"data": {"name": "labels"}, "transform": [{"filter": "datum.m=='13'"}],
     "mark": {"type": "text", "align": "left", "baseline": "middle", "font": "DejaVu Serif", "fontSize": 23, "color": "black"},
     "encoding": {"x": {"field": "r", "type": "quantitative", "scale": {"type": "log", "domain": [0.001, 10], "nice": false}, "axis": null},
                  "y": {"field": "n", "type": "quantitative", "scale": {"type": "log", "domain": [1, 10000], "nice": false}, "axis": null},
                  "text": {"field": "t"}}}
   ]},
  {"width": 226.5, "height": 156.5,
   "layer": [
    {"data": {"name": "curves"}, "transform": [{"filter": "datum.m=='13' && datum.nu=='0.15' && datum.k=='lin'"}],
     "mark": {"type": "line", "color": "black", "strokeWidth": 2.5, "strokeDash": [12, 8], "clip": true, "interpolate": "monotone"},
     "encoding": {"x": {"field": "r", "type": "quantitative", "scale": {"type": "log", "domain": [0.001, 10], "nice": false}, "axis": {"orient": "top", "values": [0.001,0.002,0.003,0.004,0.005,0.006,0.007,0.008,0.009,0.01,0.02,0.03,0.04,0.05,0.06,0.07,0.08,0.09,0.1,0.2,0.3,0.4,0.5,0.6,0.7,0.8,0.9,1,2,3,4,5,6,7,8,9,10], "labels": false, "title": null, "encoding": {"ticks": {"y2": {"condition": {"test": "abs(log(datum.value)/LN10-round(log(datum.value)/LN10))<0.001", "value": 13}, "value": 7}}}}},
                  "y": {"field": "n", "type": "quantitative", "scale": {"type": "log", "domain": [1, 10000], "nice": false}, "axis": {"orient": "right", "values": [1,2,3,4,5,6,7,8,9,10,20,30,40,50,60,70,80,90,100,200,300,400,500,600,700,800,900,1000,2000,3000,4000,5000,6000,7000,8000,9000,10000], "labels": false, "title": null, "encoding": {"ticks": {"x2": {"condition": {"test": "abs(log(datum.value)/LN10-round(log(datum.value)/LN10))<0.001", "value": -13}, "value": -7}}}}}}},
    {"data": {"name": "curves"}, "transform": [{"filter": "datum.m=='13' && datum.nu=='0.15' && datum.k=='sim'"}],
     "mark": {"type": "line", "color": "#ff0000", "strokeWidth": 2.5, "clip": true, "interpolate": "monotone"},
     "encoding": {"x": {"field": "r", "type": "quantitative", "scale": {"type": "log", "domain": [0.001, 10], "nice": false}, "axis": {"orient": "bottom", "values": [0.001,0.002,0.003,0.004,0.005,0.006,0.007,0.008,0.009,0.01,0.02,0.03,0.04,0.05,0.06,0.07,0.08,0.09,0.1,0.2,0.3,0.4,0.5,0.6,0.7,0.8,0.9,1,2,3,4,5,6,7,8,9,10], "labels": false, "title": null, "encoding": {"ticks": {"y2": {"condition": {"test": "abs(log(datum.value)/LN10-round(log(datum.value)/LN10))<0.001", "value": -13}, "value": -7}}}}},
                  "y": {"field": "n", "type": "quantitative", "scale": {"type": "log", "domain": [1, 10000], "nice": false}, "axis": {"orient": "left", "values": [1,2,3,4,5,6,7,8,9,10,20,30,40,50,60,70,80,90,100,200,300,400,500,600,700,800,900,1000,2000,3000,4000,5000,6000,7000,8000,9000,10000], "labels": false, "title": null, "encoding": {"ticks": {"x2": {"condition": {"test": "abs(log(datum.value)/LN10-round(log(datum.value)/LN10))<0.001", "value": 13}, "value": 7}}}}}}}
   ]},
  {"width": 226.5, "height": 156.5,
   "layer": [
    {"data": {"name": "curves"}, "transform": [{"filter": "datum.m=='12' && datum.nu=='0.6' && datum.k=='lin'"}],
     "mark": {"type": "line", "color": "black", "strokeWidth": 2.5, "strokeDash": [12, 8], "clip": true, "interpolate": "monotone"},
     "encoding": {"x": {"field": "r", "type": "quantitative", "scale": {"type": "log", "domain": [0.001, 10], "nice": false}, "axis": {"orient": "top", "values": [0.001,0.002,0.003,0.004,0.005,0.006,0.007,0.008,0.009,0.01,0.02,0.03,0.04,0.05,0.06,0.07,0.08,0.09,0.1,0.2,0.3,0.4,0.5,0.6,0.7,0.8,0.9,1,2,3,4,5,6,7,8,9,10], "labels": false, "title": null, "encoding": {"ticks": {"y2": {"condition": {"test": "abs(log(datum.value)/LN10-round(log(datum.value)/LN10))<0.001", "value": 13}, "value": 7}}}}},
                  "y": {"field": "n", "type": "quantitative", "scale": {"type": "log", "domain": [1, 10000], "nice": false}, "axis": {"orient": "right", "values": [1,2,3,4,5,6,7,8,9,10,20,30,40,50,60,70,80,90,100,200,300,400,500,600,700,800,900,1000,2000,3000,4000,5000,6000,7000,8000,9000,10000], "labels": false, "title": null, "encoding": {"ticks": {"x2": {"condition": {"test": "abs(log(datum.value)/LN10-round(log(datum.value)/LN10))<0.001", "value": -13}, "value": -7}}}}}}},
    {"data": {"name": "curves"}, "transform": [{"filter": "datum.m=='12' && datum.nu=='0.6' && datum.k=='sim'"}],
     "mark": {"type": "line", "color": "#ff0000", "strokeWidth": 2.5, "clip": true, "interpolate": "monotone"},
     "encoding": {"x": {"field": "r", "type": "quantitative", "scale": {"type": "log", "domain": [0.001, 10], "nice": false}, "axis": {"orient": "bottom", "values": [0.001,0.002,0.003,0.004,0.005,0.006,0.007,0.008,0.009,0.01,0.02,0.03,0.04,0.05,0.06,0.07,0.08,0.09,0.1,0.2,0.3,0.4,0.5,0.6,0.7,0.8,0.9,1,2,3,4,5,6,7,8,9,10], "labels": true, "labelPadding": 13, "labelOverlap": false, "labelFlush": false, "labelExpr": "datum.value==0.001?'10⁻³':datum.value==0.01?'10⁻²':datum.value==0.1?'10⁻¹':datum.value==1?'1':''", "title": null, "encoding": {"ticks": {"y2": {"condition": {"test": "abs(log(datum.value)/LN10-round(log(datum.value)/LN10))<0.001", "value": -13}, "value": -7}}}}},
                  "y": {"field": "n", "type": "quantitative", "scale": {"type": "log", "domain": [1, 10000], "nice": false}, "axis": {"orient": "left", "values": [1,2,3,4,5,6,7,8,9,10,20,30,40,50,60,70,80,90,100,200,300,400,500,600,700,800,900,1000,2000,3000,4000,5000,6000,7000,8000,9000,10000], "labels": true, "labelOverlap": false, "labelFlush": false, "labelExpr": "datum.value==1?'1':datum.value==10?'10':datum.value==100?'10²':datum.value==1000?'10³':''", "title": null, "encoding": {"ticks": {"x2": {"condition": {"test": "abs(log(datum.value)/LN10-round(log(datum.value)/LN10))<0.001", "value": 13}, "value": 7}}}}}}}
   ]},
  {"width": 226.5, "height": 156.5,
   "layer": [
    {"data": {"name": "curves"}, "transform": [{"filter": "datum.m=='12' && datum.nu=='0.3' && datum.k=='lin'"}],
     "mark": {"type": "line", "color": "black", "strokeWidth": 2.5, "strokeDash": [12, 8], "clip": true, "interpolate": "monotone"},
     "encoding": {"x": {"field": "r", "type": "quantitative", "scale": {"type": "log", "domain": [0.001, 10], "nice": false}, "axis": {"orient": "top", "values": [0.001,0.002,0.003,0.004,0.005,0.006,0.007,0.008,0.009,0.01,0.02,0.03,0.04,0.05,0.06,0.07,0.08,0.09,0.1,0.2,0.3,0.4,0.5,0.6,0.7,0.8,0.9,1,2,3,4,5,6,7,8,9,10], "labels": false, "title": null, "encoding": {"ticks": {"y2": {"condition": {"test": "abs(log(datum.value)/LN10-round(log(datum.value)/LN10))<0.001", "value": 13}, "value": 7}}}}},
                  "y": {"field": "n", "type": "quantitative", "scale": {"type": "log", "domain": [1, 10000], "nice": false}, "axis": {"orient": "right", "values": [1,2,3,4,5,6,7,8,9,10,20,30,40,50,60,70,80,90,100,200,300,400,500,600,700,800,900,1000,2000,3000,4000,5000,6000,7000,8000,9000,10000], "labels": false, "title": null, "encoding": {"ticks": {"x2": {"condition": {"test": "abs(log(datum.value)/LN10-round(log(datum.value)/LN10))<0.001", "value": -13}, "value": -7}}}}}}},
    {"data": {"name": "curves"}, "transform": [{"filter": "datum.m=='12' && datum.nu=='0.3' && datum.k=='sim'"}],
     "mark": {"type": "line", "color": "#ff0000", "strokeWidth": 2.5, "clip": true, "interpolate": "monotone"},
     "encoding": {"x": {"field": "r", "type": "quantitative", "scale": {"type": "log", "domain": [0.001, 10], "nice": false}, "axis": {"orient": "bottom", "values": [0.001,0.002,0.003,0.004,0.005,0.006,0.007,0.008,0.009,0.01,0.02,0.03,0.04,0.05,0.06,0.07,0.08,0.09,0.1,0.2,0.3,0.4,0.5,0.6,0.7,0.8,0.9,1,2,3,4,5,6,7,8,9,10], "labels": true, "labelPadding": 13, "labelOverlap": false, "labelFlush": false, "labelExpr": "datum.value==0.001?'10⁻³':datum.value==0.01?'10⁻²':datum.value==0.1?'10⁻¹':datum.value==1?'1':''", "title": "r\u00a0\u00a0[h⁻¹\u00a0Mpc]", "titleFont": "DejaVu Serif", "titleFontSize": 44, "titleX": 98, "titleY": 70, "titleAlign": "center", "titleBaseline": "middle", "encoding": {"ticks": {"y2": {"condition": {"test": "abs(log(datum.value)/LN10-round(log(datum.value)/LN10))<0.001", "value": -13}, "value": -7}}}}},
                  "y": {"field": "n", "type": "quantitative", "scale": {"type": "log", "domain": [1, 10000], "nice": false}, "axis": {"orient": "left", "values": [1,2,3,4,5,6,7,8,9,10,20,30,40,50,60,70,80,90,100,200,300,400,500,600,700,800,900,1000,2000,3000,4000,5000,6000,7000,8000,9000,10000], "labels": false, "title": null, "encoding": {"ticks": {"x2": {"condition": {"test": "abs(log(datum.value)/LN10-round(log(datum.value)/LN10))<0.001", "value": 13}, "value": 7}}}}}}},
    {"data": {"name": "labels"}, "transform": [{"filter": "datum.m=='12'"}],
     "mark": {"type": "text", "align": "left", "baseline": "middle", "font": "DejaVu Serif", "fontSize": 23, "color": "black"},
     "encoding": {"x": {"field": "r", "type": "quantitative", "scale": {"type": "log", "domain": [0.001, 10], "nice": false}, "axis": null},
                  "y": {"field": "n", "type": "quantitative", "scale": {"type": "log", "domain": [1, 10000], "nice": false}, "axis": null},
                  "text": {"field": "t"}}}
   ]},
  {"width": 226.5, "height": 156.5,
   "layer": [
    {"data": {"name": "curves"}, "transform": [{"filter": "datum.m=='12' && datum.nu=='0.15' && datum.k=='lin'"}],
     "mark": {"type": "line", "color": "black", "strokeWidth": 2.5, "strokeDash": [12, 8], "clip": true, "interpolate": "monotone"},
     "encoding": {"x": {"field": "r", "type": "quantitative", "scale": {"type": "log", "domain": [0.001, 10], "nice": false}, "axis": {"orient": "top", "values": [0.001,0.002,0.003,0.004,0.005,0.006,0.007,0.008,0.009,0.01,0.02,0.03,0.04,0.05,0.06,0.07,0.08,0.09,0.1,0.2,0.3,0.4,0.5,0.6,0.7,0.8,0.9,1,2,3,4,5,6,7,8,9,10], "labels": false, "title": null, "encoding": {"ticks": {"y2": {"condition": {"test": "abs(log(datum.value)/LN10-round(log(datum.value)/LN10))<0.001", "value": 13}, "value": 7}}}}},
                  "y": {"field": "n", "type": "quantitative", "scale": {"type": "log", "domain": [1, 10000], "nice": false}, "axis": {"orient": "right", "values": [1,2,3,4,5,6,7,8,9,10,20,30,40,50,60,70,80,90,100,200,300,400,500,600,700,800,900,1000,2000,3000,4000,5000,6000,7000,8000,9000,10000], "labels": false, "title": null, "encoding": {"ticks": {"x2": {"condition": {"test": "abs(log(datum.value)/LN10-round(log(datum.value)/LN10))<0.001", "value": -13}, "value": -7}}}}}}},
    {"data": {"name": "curves"}, "transform": [{"filter": "datum.m=='12' && datum.nu=='0.15' && datum.k=='sim'"}],
     "mark": {"type": "line", "color": "#ff0000", "strokeWidth": 2.5, "clip": true, "interpolate": "monotone"},
     "encoding": {"x": {"field": "r", "type": "quantitative", "scale": {"type": "log", "domain": [0.001, 10], "nice": false}, "axis": {"orient": "bottom", "values": [0.001,0.002,0.003,0.004,0.005,0.006,0.007,0.008,0.009,0.01,0.02,0.03,0.04,0.05,0.06,0.07,0.08,0.09,0.1,0.2,0.3,0.4,0.5,0.6,0.7,0.8,0.9,1,2,3,4,5,6,7,8,9,10], "labels": true, "labelPadding": 13, "labelOverlap": false, "labelFlush": false, "labelExpr": "datum.value==0.001?'10⁻³':datum.value==0.01?'10⁻²':datum.value==0.1?'10⁻¹':datum.value==1?'1':datum.value==10?'10':''", "title": null, "encoding": {"ticks": {"y2": {"condition": {"test": "abs(log(datum.value)/LN10-round(log(datum.value)/LN10))<0.001", "value": -13}, "value": -7}}}}},
                  "y": {"field": "n", "type": "quantitative", "scale": {"type": "log", "domain": [1, 10000], "nice": false}, "axis": {"orient": "left", "values": [1,2,3,4,5,6,7,8,9,10,20,30,40,50,60,70,80,90,100,200,300,400,500,600,700,800,900,1000,2000,3000,4000,5000,6000,7000,8000,9000,10000], "labels": false, "title": null, "encoding": {"ticks": {"x2": {"condition": {"test": "abs(log(datum.value)/LN10-round(log(datum.value)/LN10))<0.001", "value": 13}, "value": 7}}}}}}}
   ]}
]
}
